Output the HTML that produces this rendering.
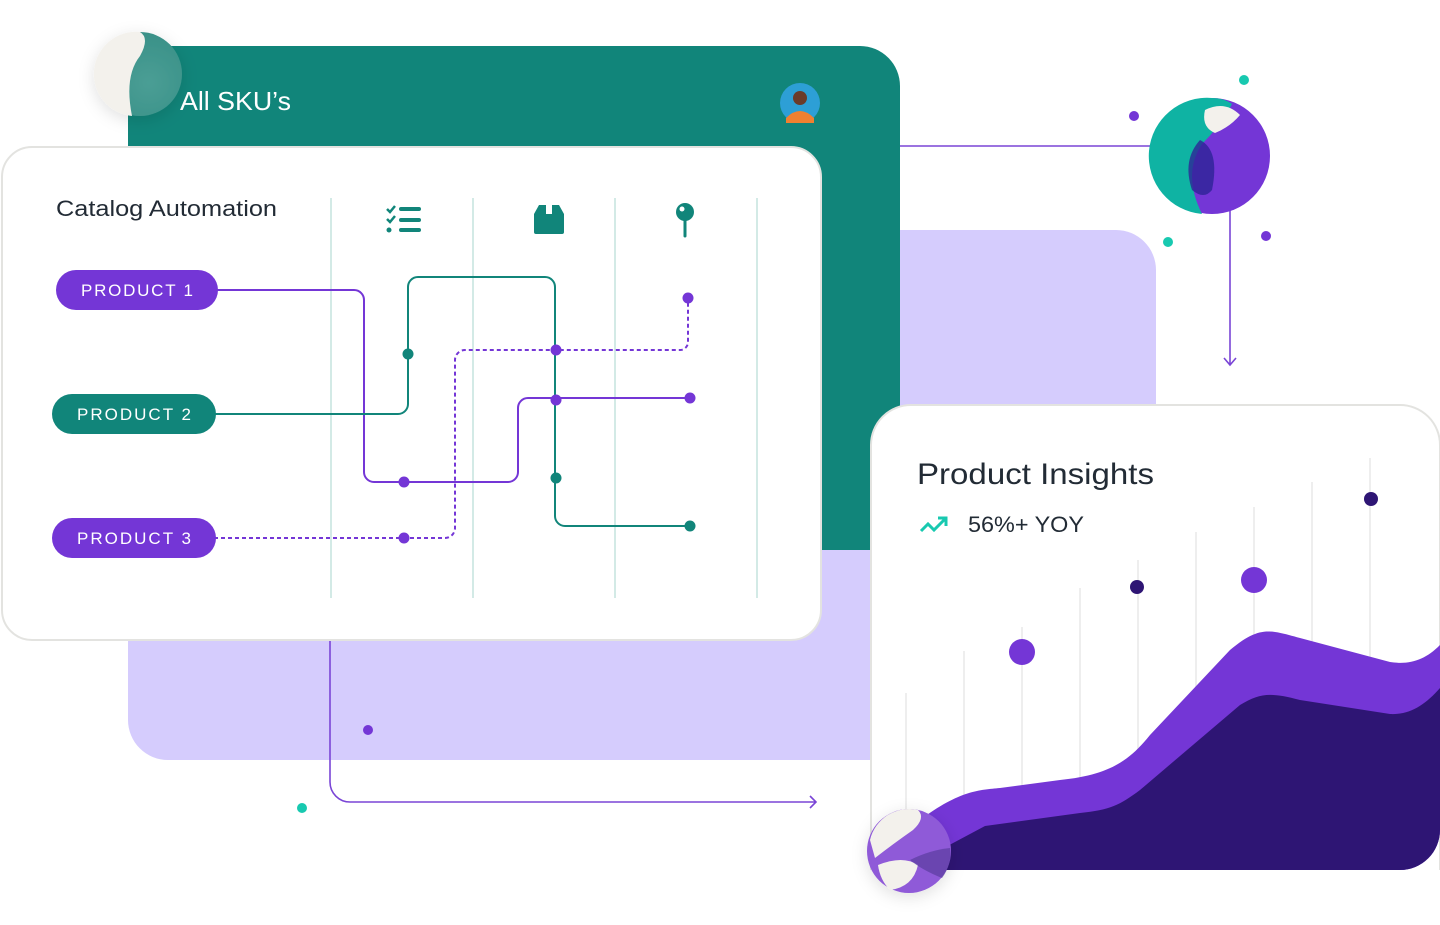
<!DOCTYPE html>
<html><head><meta charset="utf-8"><style>
body{margin:0;background:#fff;}
svg{display:block}
text{font-family:"Liberation Sans",sans-serif}
</style></head><body>
<svg width="1440" height="925" viewBox="0 0 1440 925" xmlns="http://www.w3.org/2000/svg">
<defs>
<radialGradient id="g1" cx="0.6" cy="0.6" r="0.6"><stop offset="0" stop-color="#4a9e95"/><stop offset="1" stop-color="#3a9188"/></radialGradient>
<filter id="sh" x="-50%" y="-50%" width="200%" height="200%"><feDropShadow dx="0" dy="4" stdDeviation="8" flood-color="#000" flood-opacity="0.12"/></filter>
</defs>
<rect x="128" y="230" width="1028" height="530" rx="40" fill="#d5ccfd"/>
<path d="M128 46 H860 a40 40 0 0 1 40 40 V550 H128 Z" fill="#11857a"/>
<text x="180" y="110" font-size="26" fill="#fff" textLength="111" lengthAdjust="spacingAndGlyphs">All SKU’s</text>
<circle cx="800" cy="103" r="20" fill="#2d9fd6"/>
<circle cx="800" cy="98" r="7" fill="#6b3b2a"/>
<path d="M786 118 q14 -14 28 0 v5 h-28z" fill="#f08030"/>
<g filter="url(#sh)"><circle cx="140" cy="74" r="42" fill="url(#g1)"/>
<path d="M140 32 q10 6 0 24 q-16 20 -8 60 a42 42 0 0 1 8 -84z" fill="#f3f1ec"/>
<path d="M98 74 a42 42 0 0 1 42 -42 a42 42 0 0 0 -42 42z" fill="#f3f1ec"/></g>
<path d="M900 146 H1160" stroke="#7a45d6" stroke-width="1.6" fill="none"/>
<path d="M1230 210 V365 M1224 358 L1230 365 L1236 358" stroke="#7a45d6" stroke-width="1.6" fill="none"/>
<circle cx="1212" cy="156" r="58" fill="#7436d6"/>
<path d="M1212 98 a58 58 0 0 0 -10 116 q-20 -40 0 -70 q20 -20 30 -40 q-8 -6 -20 -6z" fill="#0fb3a3"/>
<path d="M1205 110 q20 -10 35 5 q-10 12 -25 18 q-14 -6 -10 -23z" fill="#f3f1ec"/>
<path d="M1200 140 q20 10 12 50 q-8 10 -20 0 q-10 -30 8 -50z" fill="#2d2496" opacity="0.8"/>
<circle cx="1244" cy="80" r="5" fill="#18c9b0"/>
<circle cx="1134" cy="116" r="5" fill="#7436d6"/>
<circle cx="1168" cy="242" r="5" fill="#18c9b0"/>
<circle cx="1266" cy="236" r="5" fill="#7436d6"/>
<path d="M330 640 V782 a20 20 0 0 0 20 20 H816 M810 796 L816 802 L810 808" stroke="#7a45d6" stroke-width="1.6" fill="none"/>
<circle cx="368" cy="730" r="5" fill="#7436d6"/>
<circle cx="302" cy="808" r="5" fill="#18c9b0"/>
<rect x="2" y="147" width="819" height="493" rx="30" fill="#fff" stroke="#e3e3e0" stroke-width="2"/>
<text x="56" y="216" font-size="22" fill="#222b35" textLength="221" lengthAdjust="spacingAndGlyphs">Catalog Automation</text>
<g stroke="#d3eae6" stroke-width="2"><path d="M331 198V598M473 198V598M615 198V598M757 198V598"/></g>
<g fill="#11857a" stroke="#11857a">
<path d="M387 209 l3 3 l5 -6 M387 219 l3 3 l5 -6" stroke-width="2.5" fill="none"/>
<circle cx="389" cy="230" r="2.5" stroke="none"/>
<path d="M401 209H419M401 220H419M401 230H419" stroke-width="4" stroke-linecap="round"/>
<path d="M534 214 l5 -9 h20 l5 9 v18 a2 2 0 0 1 -2 2 h-26 a2 2 0 0 1 -2 -2z" stroke="none"/>
<rect x="546" y="202" width="6" height="12" fill="#fff" stroke="none"/>
<circle cx="685" cy="212" r="9" stroke="none"/>
<path d="M685 221 V236" stroke-width="3" stroke-linecap="round"/>
</g>
<circle cx="682" cy="209" r="2.5" fill="#fff"/>
<g fill="none" stroke-width="2">
<path d="M216 290 H354 a10 10 0 0 1 10 10 V472 a10 10 0 0 0 10 10 H508 a10 10 0 0 0 10 -10 V408 a10 10 0 0 1 10 -10 H690" stroke="#7436d6"/>
<path d="M214 414 H398 a10 10 0 0 0 10 -10 V287 a10 10 0 0 1 10 -10 H545 a10 10 0 0 1 10 10 V516 a10 10 0 0 0 10 10 H690" stroke="#11857a"/>
<path d="M214 538 H445 a10 10 0 0 0 10 -10 V360 a10 10 0 0 1 10 -10 H680 a8 8 0 0 0 8 -8 V298" stroke="#7436d6" stroke-dasharray="4 3"/>
</g>
<g fill="#7436d6"><circle cx="688" cy="298" r="5.5"/><circle cx="556" cy="350" r="5.5"/><circle cx="556" cy="400" r="5.5"/><circle cx="690" cy="398" r="5.5"/><circle cx="404" cy="482" r="5.5"/><circle cx="404" cy="538" r="5.5"/></g>
<g fill="#11857a"><circle cx="408" cy="354" r="5.5"/><circle cx="556" cy="478" r="5.5"/><circle cx="690" cy="526" r="5.5"/></g>
<rect x="56" y="270" width="162" height="40" rx="20" fill="#7436d6"/>
<text x="81" y="296" font-size="17" fill="#fff" textLength="112" lengthAdjust="spacing">PRODUCT 1</text>
<rect x="52" y="394" width="164" height="40" rx="20" fill="#11857a"/>
<text x="77" y="420" font-size="17" fill="#fff" textLength="114" lengthAdjust="spacing">PRODUCT 2</text>
<rect x="52" y="518" width="164" height="40" rx="20" fill="#7436d6"/>
<text x="77" y="544" font-size="17" fill="#fff" textLength="114" lengthAdjust="spacing">PRODUCT 3</text>
<path d="M871 870 V445 a40 40 0 0 1 40 -40 H1400 a40 40 0 0 1 40 40 V870" fill="#fff" stroke="#e3e3e0" stroke-width="2"/>
<g stroke="#eeeeee" stroke-width="2"><path d="M906 693V860M964 651V860M1022 627V860M1080 588V860M1138 560V860M1196 532V860M1254 507V860M1312 482V860M1370 458V860"/></g>
<text x="917" y="484" font-size="30" fill="#222b35" textLength="237" lengthAdjust="spacingAndGlyphs">Product Insights</text>
<path d="M921 531 l7 -7 l6 6 l11 -11 M938 518 h8 v8" stroke="#18c9b0" stroke-width="3" fill="none"/>
<text x="968" y="532" font-size="22" fill="#222b35" textLength="116" lengthAdjust="spacingAndGlyphs">56%+ YOY</text>
<circle cx="1022" cy="652" r="13" fill="#7436d6"/>
<circle cx="1137" cy="587" r="7" fill="#2e1574"/>
<circle cx="1254" cy="580" r="13" fill="#7436d6"/>
<circle cx="1371" cy="499" r="7" fill="#2e1574"/>
<path d="M920 820 C960 790 980 790 1000 788 L1060 780 C1110 775 1130 760 1150 735 L1230 650 C1260 625 1270 630 1300 638 L1390 662 C1410 665 1425 660 1440 645 V830 a40 40 0 0 1 -40 40 H930 Z" fill="#7436d6"/>
<path d="M940 850 L985 826 L1080 813 C1110 810 1120 805 1140 790 L1240 705 C1260 693 1270 692 1300 700 L1390 714 C1410 715 1425 705 1440 688 V830 a40 40 0 0 1 -40 40 H940 Z" fill="#2e1574"/>
<g filter="url(#sh)"><circle cx="909" cy="851" r="42" fill="#8f5ad8"/>
<path d="M870 840 a40 40 0 0 1 48 -30 q8 8 -5 20 q-20 14 -38 28z" fill="#f3f1ec"/>
<path d="M878 865 q25 -10 40 0 q-5 22 -28 25 q-10 -10 -12 -25z" fill="#f3f1ec"/>
<path d="M910 860 q20 -10 40 -12 a40 40 0 0 1 -8 30 q-20 -8 -32 -18z" fill="#5a3ca0" opacity="0.7"/></g>
</svg>
</body></html>
